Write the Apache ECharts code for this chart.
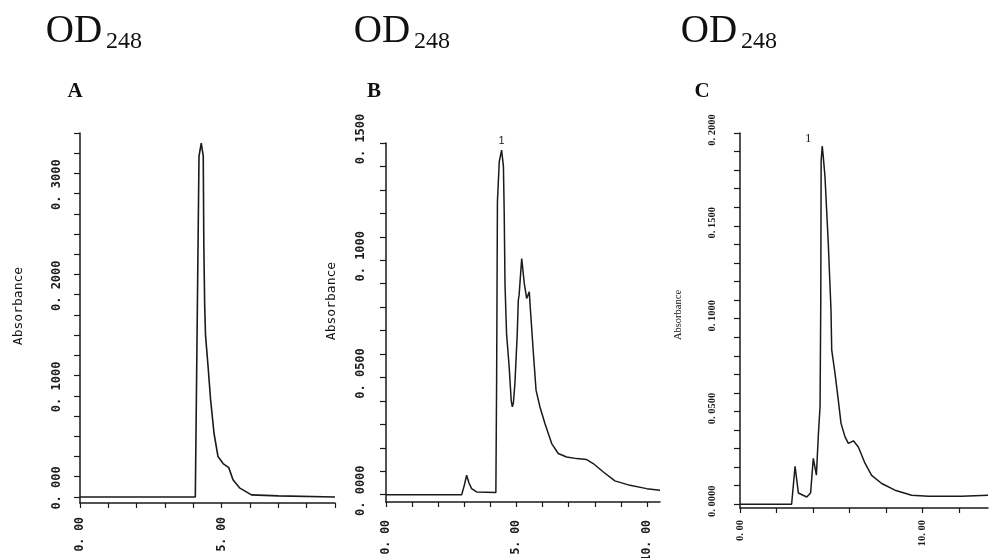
<!DOCTYPE html>
<html>
<head>
<meta charset="utf-8">
<script src="https://cdn.jsdelivr.net/npm/echarts@6/dist/echarts.min.js"></script>
<style>
html,body{margin:0;padding:0;background:#fff;}
#chart{width:989px;height:558px;}
</style>
</head>
<body>
<div id="chart"></div>
<script>
// panel A
const timeA=[0,4.07,4.20,4.28,4.35,4.37,4.40,4.43,4.52,4.61,4.73,4.87,5.05,5.25,5.40,5.63,6.05,7.0,9.0];
const absA=[0,0,0.337,0.350,0.337,0.25,0.19,0.160,0.129,0.096,0.063,0.040,0.033,0.029,0.017,0.009,0.002,0.001,0];
const xTicksA=[0,1,2,3,4,5,6,7,8,9];
const xLabelsA=['0. 00','','','','','5. 00','','','',''];
const yTicksA=[0,0.02,0.04,0.06,0.08,0.1,0.12,0.14,0.16,0.18,0.2,0.22,0.24,0.26,0.28,0.3,0.32,0.34,0.36];
const yLabelValsA=[0,0.1,0.2,0.3];
const yLabelsA=['0. 000','0. 1000','0. 2000','0. 3000'];

// panel B
const timeB=[0,2.90,3.00,3.09,3.18,3.28,3.47,4.21,4.24,4.27,4.34,4.43,4.50,4.53,4.56,4.59,4.62,4.72,4.80,4.84,4.88,4.94,5.03,5.07,5.10,5.20,5.30,5.39,5.49,5.54,5.64,5.75,5.90,6.09,6.35,6.60,6.92,7.31,7.69,7.94,8.33,8.77,9.35,9.99,10.5];
const absB=[0,0,0.004,0.0083,0.005,0.0026,0.0012,0.001,0.05,0.125,0.142,0.147,0.140,0.120,0.090,0.079,0.0687,0.0545,0.040,0.0375,0.039,0.0474,0.0687,0.083,0.085,0.1007,0.090,0.0837,0.0865,0.078,0.0616,0.0446,0.0374,0.0304,0.0218,0.0176,0.0161,0.0154,0.015,0.0133,0.0097,0.0059,0.004,0.0026,0.0019];
const xTicksB=[0,1,2,3,4,5,6,7,8,9,10];
const xLabelsB=['0. 00','','','','','5. 00','','','','','10. 00'];
const yTicksB=[0,0.01,0.02,0.03,0.04,0.05,0.06,0.07,0.08,0.09,0.1,0.11,0.12,0.13,0.14,0.15];
const yLabelValsB=[0,0.05,0.1,0.15];
const yLabelsB=['0. 0000','0. 0500','0. 1000','0. 1500'];

// panel C
const timeC=[0,2.83,3.02,3.20,3.66,3.87,4.02,4.19,4.30,4.39,4.43,4.45,4.51,4.56,4.66,4.84,4.99,5.03,5.21,5.39,5.54,5.76,5.94,6.22,6.49,6.86,7.22,7.77,8.50,9.41,10.33,12.16,13.6];
const absC=[0,0,0.0205,0.0061,0.0039,0.0061,0.0247,0.0157,0.038,0.0525,0.11,0.185,0.193,0.188,0.1766,0.1407,0.1047,0.083,0.0705,0.0561,0.0436,0.0363,0.0328,0.0342,0.0309,0.022,0.0156,0.0112,0.0076,0.0049,0.0043,0.0043,0.0049];
const xTicksC=[0,2,4,6,8,10,12];
const xLabelsC=['0. 00','','','','','10. 00',''];
const yTicksC=[0,0.01,0.02,0.03,0.04,0.05,0.06,0.07,0.08,0.09,0.1,0.11,0.12,0.13,0.14,0.15,0.16,0.17,0.18,0.19,0.2];
const yLabelValsC=[0,0.05,0.1,0.15,0.2];
const yLabelsC=['0. 0000','0. 0500','0. 1000','0. 1500','0. 2000'];

const ink='#1a1a1a';
const mono='"DejaVu Sans Mono", "Liberation Mono", monospace';
const serif='"Liberation Serif", "DejaVu Serif", serif';

function pairs(xs,ys){
  return xs.map(function(x,i){return [x,ys[i]];});
}
function lookup(vals,texts){
  return function(v){
    for(let i=0;i<vals.length;i++){
      if(Math.abs(vals[i]-v)<1e-9) return texts[i];
    }
    return '';
  };
}

function xAxisOf(idx,max,ticks,labels,font,size,margin,weight){
  return {
    type:'value',gridIndex:idx,min:0,max:max,
    axisLine:{onZero:false,lineStyle:{color:ink,width:1.5}},
    axisTick:{customValues:ticks,length:5,lineStyle:{color:ink,width:1.2}},
    axisLabel:{
      customValues:ticks,rotate:90,margin:margin,
      color:'#1a1a1a',fontFamily:font,fontSize:size,fontWeight:weight,
      formatter:lookup(ticks,labels)
    },
    splitLine:{show:false}
  };
}
function yAxisOf(idx,min,max,ticks,labVals,labels,font,size,margin,shift,weight){
  return {
    type:'value',gridIndex:idx,min:min,max:max,
    axisLine:{show:true,onZero:false,lineStyle:{color:ink,width:1.5}},
    axisTick:{show:true,customValues:ticks,length:6,lineStyle:{color:ink,width:1.2}},
    axisLabel:{
      customValues:labVals,rotate:90,margin:margin,padding:[0,0,0,shift],
      color:'#1a1a1a',fontFamily:font,fontSize:size,fontWeight:weight,
      formatter:lookup(labVals,labels)
    },
    splitLine:{show:false}
  };
}

function txt(x,y,s,size,font,weight,rot){
  return {
    type:'text',x:x,y:y,rotation:rot||0,
    style:{text:s,fontSize:size,fontFamily:font,fontWeight:weight||'normal',
      fill:'#111',align:'center',verticalAlign:'middle'}
  };
}

const chart=echarts.init(document.getElementById('chart'),null,{renderer:'canvas'});

const option={
  backgroundColor:'#fff',
  animation:false,
  grid:[
    {left:80,top:133,width:255,height:370,outerBoundsMode:'none'},
    {left:386,top:143,width:274,height:359,outerBoundsMode:'none'},
    {left:740,top:133,width:248,height:375,outerBoundsMode:'none'}
  ],
  xAxis:[
    xAxisOf(0,9,xTicksA,xLabelsA,mono,11.5,14,'bold'),
    xAxisOf(1,10.5,xTicksB,xLabelsB,mono,11.5,18,'bold'),
    xAxisOf(2,13.6,xTicksC,xLabelsC,serif,10.5,12,'bold')
  ],
  yAxis:[
    yAxisOf(0,-0.006,0.36,yTicksA,yLabelValsA,yLabelsA,mono,12,17,18,'bold'),
    yAxisOf(1,-0.0031,0.15,yTicksB,yLabelValsB,yLabelsB,mono,12,19,8,'bold'),
    yAxisOf(2,-0.002,0.2,yTicksC,yLabelValsC,yLabelsC,serif,10.5,22,6,'bold')
  ],
  graphic:[
    txt(74,32,'OD',39,serif),
    txt(124,42,'248',24,serif),
    txt(382,32,'OD',39,serif),
    txt(432,42,'248',24,serif),
    txt(709,32,'OD',39,serif),
    txt(759,42,'248',24,serif),
    txt(75,92,'A',21,serif,'bold'),
    txt(374,92,'B',21,serif,'bold'),
    txt(702,92,'C',21,serif,'bold'),
    txt(19,306,'Absorbance',13,mono,'normal',Math.PI/2),
    txt(332,301,'Absorbance',13,mono,'normal',Math.PI/2),
    txt(678,315,'Absorbance',10.5,serif,'normal',Math.PI/2)
  ],
  series:[
    {
      type:'line',xAxisIndex:0,yAxisIndex:0,data:pairs(timeA,absA),
      showSymbol:false,lineStyle:{color:ink,width:1.6}
    },
    {
      type:'line',xAxisIndex:1,yAxisIndex:1,data:pairs(timeB,absB),
      showSymbol:false,lineStyle:{color:ink,width:1.5},
      markPoint:{
        symbol:'circle',symbolSize:1,itemStyle:{color:'rgba(0,0,0,0)'},
        data:[{type:'max',valueDim:'y'}],
        label:{show:true,formatter:'1',position:'top',distance:3,color:'#222',
          fontFamily:'"Liberation Sans", Arial, sans-serif',fontSize:11}
      }
    },
    {
      type:'line',xAxisIndex:2,yAxisIndex:2,data:pairs(timeC,absC),
      showSymbol:false,lineStyle:{color:ink,width:1.5},
      markPoint:{
        symbol:'circle',symbolSize:1,itemStyle:{color:'rgba(0,0,0,0)'},
        data:[{type:'max',valueDim:'y'}],
        label:{show:true,formatter:'1',position:'top',distance:0,offset:[-14,0],color:'#222',
          fontFamily:serif,fontSize:13}
      }
    }
  ]
};
chart.setOption(option);
</script>
</body>
</html>
